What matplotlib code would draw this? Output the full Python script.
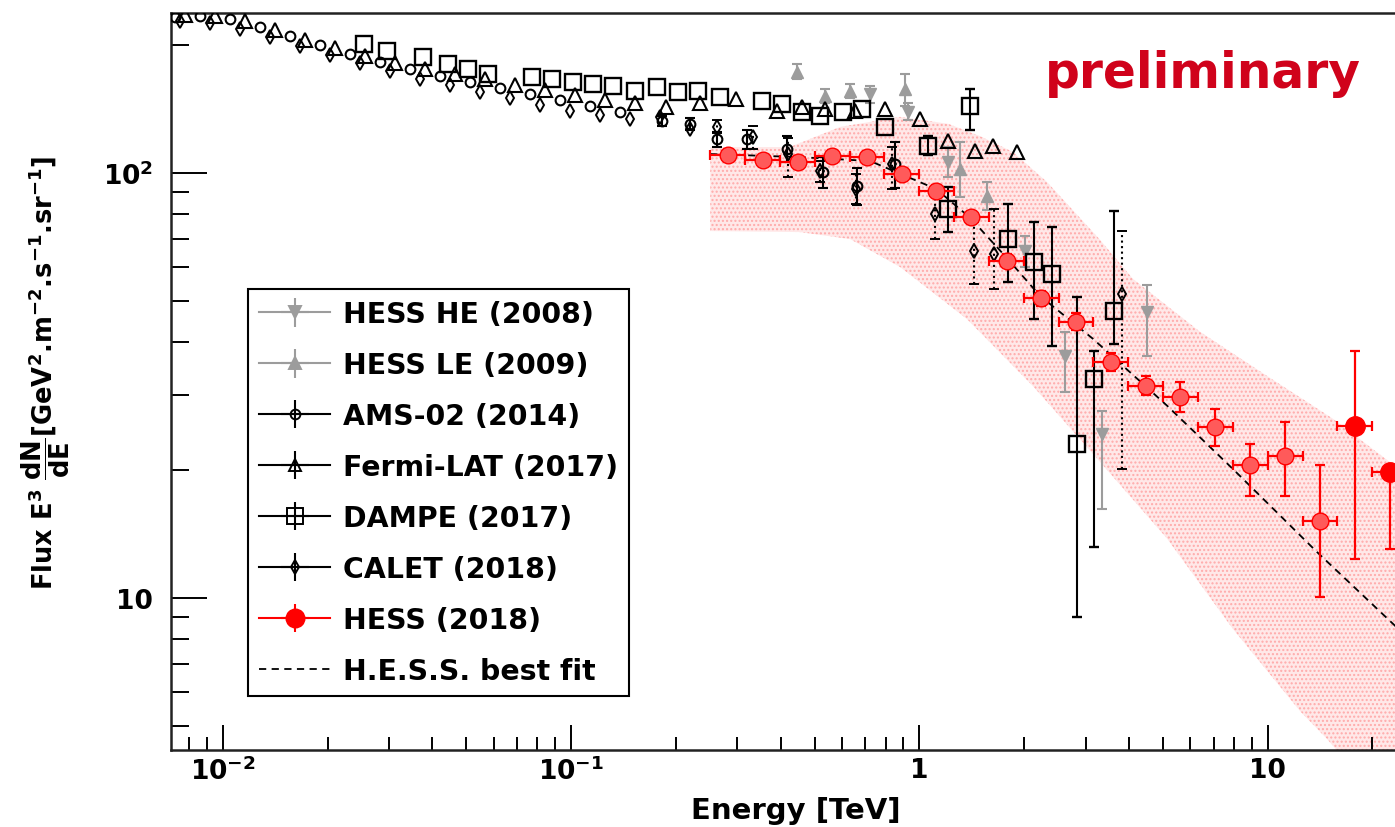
#!/usr/bin/env python3
"""
Electron spectrum: H.E.S.S. 2018 (preliminary) compared with other experiments
"""

import numpy as np
import matplotlib
matplotlib.use('Agg')
import matplotlib.pyplot as plt
from matplotlib.ticker import LogLocator, NullFormatter

plt.rcParams['font.family'] = ['DejaVu Sans']
plt.rcParams['font.weight'] = 'bold'
plt.rcParams['mathtext.fontset'] = 'custom'
plt.rcParams['mathtext.rm'] = 'DejaVu Sans:bold'
plt.rcParams['mathtext.it'] = 'DejaVu Sans:bold'
plt.rcParams['mathtext.bf'] = 'DejaVu Sans:bold'

nan = np.nan

# energy [TeV] and E^3 dN/dE values (lo/hi = error bar ends)
hess_he_e = [0.72, 0.928, 1.209, 2.012, 2.62, 3.345, 4.506]
hess_he_f = [153.0, 139.2, 106.1, 65.5, 37.1, 24.3, 47.1]
hess_he_lo = [146.0, 133.0, 98.0, 60.0, 30.5, 16.2, 37.1]
hess_he_hi = [160.0, 146.0, 115.0, 71.0, 42.2, 27.5, 54.6]

hess_le_e = [0.4456, 0.5362, 0.6324, 0.910, 1.309, 1.565]
hess_le_f = [172.8, 151.8, 155.9, 157.6, 102.2, 88.3]
hess_le_lo = [166.0, 146.0, 150.0, 143.8, 88.0, 82.0]
hess_le_hi = [180.0, 158.0, 162.0, 171.0, 118.2, 95.0]

ams_e = [0.00729, 0.00861, 0.0105, 0.0128, 0.0156, 0.0190, 0.0232, 0.0283,
         0.0345, 0.0420, 0.0512, 0.0626, 0.0762, 0.0929, 0.113, 0.138,
         0.183, 0.220, 0.262, 0.320, 0.417, 0.528, 0.661, 0.850]
ams_f = [232.8, 234.0, 230.3, 220.6, 210.1, 200.1, 190.6, 182.5,
         175.7, 169.2, 163.8, 158.5, 153.5, 148.5, 143.8, 139.2,
         132.6, 130.5, 120.2, 120.2, 113.9, 100.5, 93.2, 105.0]
ams_lo = [nan] * 16 + [129.0, 126.0, 115.0, 114.0, 106.0, 92.0, 84.0, 92.0]
ams_hi = [nan] * 16 + [136.0, 135.0, 125.0, 126.0, 122.0, 109.0, 103.0, 118.0]

fermi_e = [0.0078, 0.0095, 0.01159, 0.01413, 0.01724, 0.02102, 0.02564, 0.03127,
           0.03814, 0.04652, 0.05673, 0.06919, 0.08439, 0.1029, 0.1255, 0.1531,
           0.1868, 0.2351, 0.2967, 0.3902, 0.4618, 0.5363, 0.6542, 0.7971,
           1.003, 1.211, 1.446, 1.627, 1.905]
fermi_f = [235.4, 234.0, 227.8, 217.0, 205.6, 196.9, 188.5, 181.5,
           175.7, 171.0, 166.4, 161.1, 156.8, 152.6, 148.5, 146.1,
           142.9, 146.1, 149.3, 140.0, 142.9, 141.4, 140.0, 141.4,
           134.0, 118.9, 112.7, 115.8, 112.0]

dampe_e = [0.02544, 0.02962, 0.03759, 0.04436, 0.05061, 0.05777, 0.07727, 0.08822,
           0.1013, 0.1157, 0.1320, 0.1527, 0.1766, 0.2029, 0.2316, 0.2679,
           0.3537, 0.4036, 0.4606, 0.5188, 0.6039, 0.6846, 0.7971, 1.059,
           1.211, 1.398, 1.80, 2.13, 2.41, 2.83, 3.17, 3.63]
dampe_f = [201.1, 193.7, 187.5, 180.5, 175.7, 171.0, 168.2, 166.4,
           163.8, 162.0, 160.2, 155.9, 159.3, 155.1, 155.9, 151.0,
           147.7, 145.3, 139.2, 136.2, 139.2, 141.4, 128.3, 115.8,
           82.3, 144.0, 69.9, 61.9, 57.9, 23.0, 32.8, 47.3]
dampe_lo = [nan] * 23 + [110.0, 72.6, 126.4, 55.4, 45.3, 39.2, 9.0, 13.2, 39.6]
dampe_hi = [nan] * 23 + [122.0, 92.7, 157.3, 84.6, 76.7, 74.7, 51.0, 38.2, 81.3]

calet_e = [0.00754, 0.00919, 0.01121, 0.01367, 0.01667, 0.02033, 0.02479, 0.03023,
           0.03686, 0.04495, 0.0548, 0.0668, 0.0815, 0.0994, 0.1211, 0.1477,
           0.1801, 0.2197, 0.2623, 0.332, 0.419, 0.520, 0.658, 0.835,
           1.11, 1.44, 1.64, 3.82]
calet_f = [227.8, 225.4, 218.2, 208.9, 199.0, 189.5, 181.5, 173.8,
           166.4, 161.1, 155.1, 150.1, 144.5, 140.0, 136.9, 134.0,
           135.5, 126.9, 128.3, 121.5, 111.0, 101.1, 91.7, 105.0,
           80.1, 65.5, 64.4, 51.9]
calet_lo = [nan] * 18 + [124.0, 114.0, 98.0, 95.1, 84.6, 91.7, 69.9, 54.7, 53.3, 20.1]
calet_hi = [nan] * 18 + [133.0, 129.0, 121.0, 106.7, 99.5, 115.1, 89.2, 76.7, 82.3, 73.1]

# H.E.S.S. 2018: bin edges (10 per decade) and centres
hess18_edges = [0.251, 0.316, 0.398, 0.501, 0.631, 0.794, 1.0, 1.26, 1.58, 2.0, 2.51,
                3.16, 3.98, 5.01, 6.31, 7.94, 10.0, 12.6, 15.8, 20.0, 25.1]
hess18_e = [0.282, 0.355, 0.447, 0.562, 0.708, 0.891, 1.12, 1.41, 1.78, 2.24,
            2.82, 3.55, 4.47, 5.62, 7.08, 8.91, 11.2, 14.1, 17.8, 22.4]
hess18_f = [110.3, 107.3, 106.3, 109.8, 108.9, 99.5, 90.9, 78.7, 62.2, 50.7,
            44.7, 35.9, 31.6, 29.7, 25.2, 20.5, 21.6, 15.2, 25.4, 19.8]
hess18_lo = [107.0, 104.1, 103.1, 106.5, 105.6, 96.5, 88.2, 76.3, 60.0, 48.6,
             42.6, 34.2, 30.0, 27.4, 22.8, 17.4, 17.4, 10.04, 12.35, 13.04]
hess18_hi = [113.6, 110.5, 109.5, 113.1, 112.2, 102.5, 93.6, 81.1, 64.4, 52.8,
             46.8, 37.7, 33.3, 32.2, 27.8, 23.0, 25.9, 20.6, 38.2, 19.8]

# best fit curve and systematic band
fit_e = [0.251, 0.45, 0.722, 1.117, 1.398, 1.774, 2.22, 3.154, 5.143, 7.957, 13.86, 23.2, 31.3]
fit_f = [110.8, 109.0, 106.7, 91.7, 78.5, 63.4, 51.4, 40.7, 28.35, 20.1, 12.83, 8.61, 6.82]

band_hi_e = [0.251, 0.425, 0.592, 0.880, 1.210, 1.49, 1.858, 2.326, 3.303, 4.108,
             6.397, 9.96, 15.41, 23.2, 31.3]
band_hi_f = [115.1, 115.1, 128.3, 135.5, 130.5, 122.2, 112.0, 95.2, 69.6, 56.3,
             42.3, 33.3, 26.4, 20.45, 17.6]
band_lo_e = [0.251, 0.4545, 0.6326, 0.880, 1.371, 2.121, 3.303, 5.143, 7.957, 12.39, 14.81, 31.3]
band_lo_f = [73.0, 72.6, 69.9, 60.1, 45.3, 31.5, 20.9, 13.8, 8.45, 5.42, 4.66, 2.3]

x_ticks = [0.01, 0.1, 1, 10]
x_tick_labels = [r'$10^{-2}$', r'$10^{-1}$', '1', '10']
y_ticks = [10, 100]
y_tick_labels = ['10', r'$10^{2}$']

labels = ['HESS HE (2008)', 'HESS LE (2009)', 'AMS-02 (2014)', 'Fermi-LAT (2017)',
          'DAMPE (2017)', 'CALET (2018)', 'HESS (2018)', 'H.E.S.S. best fit']

GRAY = '#9c9c9c'
RED = '#ff0000'


def yerr_from(f, lo, hi):
    f = np.asarray(f)
    return [f - np.asarray(lo), np.asarray(hi) - f]


def draw_points(ax, e, f, lo=None, hi=None, color='black', **kw):
    yerr = None if lo is None else yerr_from(f, lo, hi)
    return ax.errorbar(e, f, yerr=yerr, fmt='', color=color, ecolor=color,
                       linestyle='none', elinewidth=1.5, capsize=3.5,
                       capthick=1.5, **kw)


def create_plot():
    fig = plt.figure(figsize=(13.95, 8.28), dpi=100)
    ax = fig.add_axes([0.12258, 0.09336, 0.90968, 0.88973])
    ax.set_xscale('log')
    ax.set_yscale('log')

    # systematic band
    poly_e = np.concatenate([band_hi_e, band_lo_e[::-1]])
    poly_f = np.concatenate([band_hi_f, band_lo_f[::-1]])
    ax.fill(poly_e, poly_f, facecolor='#ffe8e8', edgecolor='#ffaaaa',
            hatch='....', linewidth=0, zorder=1)

    # best fit
    fit_line, = ax.plot(fit_e, fit_f, color='black', lw=1.3,
                        linestyle=(0, (4, 3)), zorder=2)

    # other experiments
    draw_points(ax, hess_he_e, hess_he_f, hess_he_lo, hess_he_hi, color=GRAY,
                marker='v', ms=9, mfc=GRAY, mec=GRAY, zorder=3)
    draw_points(ax, hess_le_e, hess_le_f, hess_le_lo, hess_le_hi, color=GRAY,
                marker='^', ms=9, mfc=GRAY, mec=GRAY, zorder=3)
    draw_points(ax, ams_e, ams_f, ams_lo, ams_hi, marker='o', ms=7,
                mfc='none', mec='black', mew=1.5, zorder=4)
    draw_points(ax, fermi_e, fermi_f, marker='^', ms=10,
                mfc='none', mec='black', mew=1.5, zorder=4)
    draw_points(ax, dampe_e, dampe_f, dampe_lo, dampe_hi, marker='s', ms=12,
                mfc='none', mec='black', mew=1.7, zorder=4)
    calet = draw_points(ax, calet_e, calet_f, calet_lo, calet_hi, marker='d', ms=7,
                        mfc='none', mec='black', mew=1.4, zorder=4)
    for bars in calet[2]:
        bars.set_linestyle(':')

    # H.E.S.S. 2018
    e18 = np.asarray(hess18_e)
    edges = np.asarray(hess18_edges)
    xerr = [e18 - edges[:-1], edges[1:] - e18]
    ax.errorbar(e18, hess18_f, xerr=xerr, yerr=yerr_from(hess18_f, hess18_lo, hess18_hi),
                fmt='o', color=RED, ecolor=RED, ms=12, mfc='#ff5a5a', mec=RED,
                elinewidth=1.6, capsize=3.5, capthick=1.6, zorder=6)
    ax.plot(e18[18:], np.asarray(hess18_f)[18:], 'o', color=RED, ms=14, zorder=7)

    # axes
    ax.set_xlim(0.00710, 31.26)
    ax.set_ylim(4.396, 237.9)
    ax.set_xticks(x_ticks)
    ax.set_xticklabels(x_tick_labels)
    ax.set_yticks(y_ticks)
    ax.set_yticklabels(y_tick_labels)
    ax.xaxis.set_minor_locator(LogLocator(base=10, subs=np.arange(2, 10)))
    ax.yaxis.set_minor_locator(LogLocator(base=10, subs=np.arange(2, 10)))
    ax.xaxis.set_minor_formatter(NullFormatter())
    ax.yaxis.set_minor_formatter(NullFormatter())
    ax.tick_params(axis='x', which='major', direction='in', length=18, width=1.4,
                   pad=5, labelsize=19, top=False)
    ax.tick_params(axis='x', which='minor', direction='in', length=9.5, width=1.4, top=False)
    ax.tick_params(axis='y', which='major', direction='in', length=26, width=1.4,
                   pad=13, labelsize=19, right=False)
    ax.tick_params(axis='y', which='minor', direction='in', length=13, width=1.4, right=False)
    for side in ['left', 'bottom', 'top']:
        ax.spines[side].set_linewidth(1.8)
        ax.spines[side].set_color('#222222')

    fig.text(795.5 / 1395, 1 - 811 / 828, 'Energy [TeV]', fontsize=21,
             fontweight='bold', ha='center', va='center')
    fig.text(46 / 1395, 1 - 373 / 828,
             r'Flux E$^{3}$ $\dfrac{dN}{dE}$[GeV$^{2}$.m$^{-2}$.s$^{-1}$.sr$^{-1}$]',
             fontsize=18.5, fontweight='bold', rotation=90, ha='center', va='center')
    fig.text(1045 / 1395, 1 - 88 / 828, 'preliminary', color='#d0021b', fontsize=35,
             fontweight='bold', ha='left', va='baseline')

    # legend proxies (line across + cross + marker)
    def proxy(color, marker, ms, mfc):
        return ax.errorbar([], [], xerr=[], yerr=[], color=color, ecolor=color,
                           marker=marker, ms=ms, mfc=mfc, mec=color, mew=1.4,
                           linestyle='-', lw=1.5, elinewidth=1.5, capsize=0)

    handles = [proxy(GRAY, 'v', 9, GRAY), proxy(GRAY, '^', 9, GRAY),
               proxy('black', 'o', 7, 'none'), proxy('black', '^', 9, 'none'),
               proxy('black', 's', 11, 'none'), proxy('black', 'd', 7, 'none'),
               proxy(RED, 'o', 13, RED), fit_line]
    leg = ax.legend(handles, labels, loc='upper left', bbox_to_anchor=(0.0607, 0.6254),
                    borderaxespad=0, prop={'size': 20.4, 'weight': 'bold'},
                    frameon=True, fancybox=False, edgecolor='black', framealpha=1,
                    borderpad=0.4, labelspacing=0.81, handlelength=2.5,
                    handletextpad=0.45)
    leg.get_frame().set_linewidth(1.5)
    leg.set_zorder(10)

    fig.savefig('out.png', dpi=100)


def main():
    create_plot()


if __name__ == "__main__":
    main()
